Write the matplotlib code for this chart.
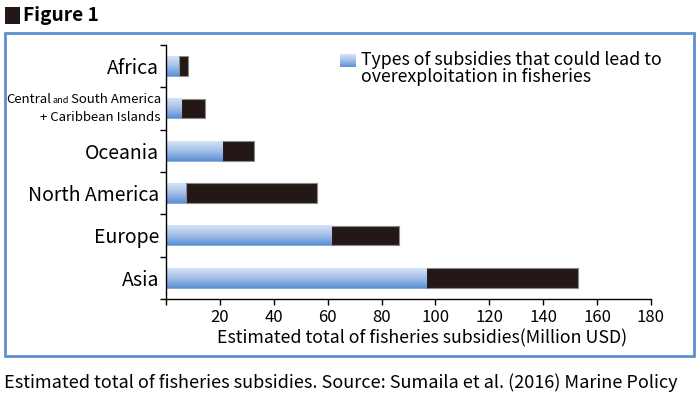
import numpy as np
import matplotlib.pyplot as plt
from matplotlib.colors import LinearSegmentedColormap
from matplotlib.patches import Rectangle
from matplotlib.offsetbox import TextArea, HPacker, VPacker, AnnotationBbox

plt.rcParams['font.family'] = ['Noto Sans CJK JP', 'DejaVu Sans']

# data (million USD)
regions = ["Africa", "Central and South America", "Oceania", "North America", "Europe", "Asia"]
harmful = np.array([4.8, 5.6, 20.8, 7.4, 61.3, 96.5])
total = np.array([8.2, 14.5, 32.7, 56.0, 86.3, 153.0])
other = total - harmful
xticks = [0, 20, 40, 60, 80, 100, 120, 140, 160, 180]

W, H = 700, 399
fig = plt.figure(figsize=(W / 100, H / 100), dpi=100)
ax = fig.add_axes([166 / W, 1 - 299 / H, 485 / W, 254 / H])

y = np.arange(len(regions))
bh = 0.47
blue = ax.barh(y, harmful, height=bh, color='#8fb2e3', edgecolor='#6f9bd8', lw=0.5, zorder=2)
ax.barh(y, other, left=harmful, height=bh, color='#231815', edgecolor='#8a8a8a', lw=0.8, zorder=2)

# vertical gradient on the blue bars
grad = np.linspace(0, 1, 64).reshape(-1, 1)
cmap = LinearSegmentedColormap.from_list('bl', ['#d6e3f5', '#a3c0e9', '#5b8fd4'])
for p in blue.patches:
    x0, y0, w, h = p.get_x(), p.get_y(), p.get_width(), p.get_height()
    ax.imshow(grad, cmap=cmap, aspect='auto', zorder=2.5,
              extent=(x0, x0 + w, y0 + h, y0))

ax.set_xlim(0, 180)
ax.set_ylim(5.5, -0.5)

ax.set_xticks(xticks, [str(t) if t else '' for t in xticks])
ax.tick_params(axis='x', length=4, width=1, labelsize=12, pad=3)

labels = [r if r != "Central and South America" else '' for r in regions]
ax.set_yticks(y, labels)
ax.set_yticks(np.arange(-0.5, 6, 1), minor=True)
ax.tick_params(axis='y', which='major', length=0, labelsize=14, pad=5)
ax.tick_params(axis='y', which='minor', length=4, width=1)
for s in ['top', 'right']:
    ax.spines[s].set_visible(False)
for s in ['left', 'bottom']:
    ax.spines[s].set_linewidth(1)

ax.set_xlabel('Estimated total of fisheries subsidies(Million USD)', fontsize=12.8)
ax.xaxis.set_label_coords(0.528, -39 / 254, transform=ax.transAxes)
ax.xaxis.label.set_va('center')

# two-line label with small "and"
fs = 9.5
line1 = HPacker(children=[TextArea("Central", textprops=dict(size=fs)),
                          TextArea("and", textprops=dict(size=6.5)),
                          TextArea("South America", textprops=dict(size=fs))],
                align='baseline', sep=1, pad=0)
line2 = TextArea("+ Caribbean Islands", textprops=dict(size=fs))
box = VPacker(children=[line1, line2], align='right', sep=3, pad=0)
ab = AnnotationBbox(box, (-0.011, y[1]), xycoords=('axes fraction', 'data'),
                    box_alignment=(1, 0.5), frameon=False, pad=0, annotation_clip=False)
ax.add_artist(ab)

# legend (gradient swatch)
lax = fig.add_axes([340 / W, 1 - 67 / H, 16 / W, 13 / H])
lax.imshow(grad, cmap=cmap, aspect='auto')
lax.axis('off')
fig.text(361 / W, 1 - 51 / H, 'Types of subsidies that could lead to\noverexploitation in fisheries',
         fontsize=12.8, va='top', linespacing=0.92)

# frame, header, caption
fig.patches.append(Rectangle((5 / W, 1 - 356 / H), 689 / W, 323 / H, fill=False,
                             ec='#5d8fd3', lw=2, transform=fig.transFigure))
fig.patches.append(Rectangle((5 / W, 1 - 24 / H), 15 / W, 17 / H, fc='#231815',
                             ec='none', transform=fig.transFigure))
fig.text(23 / W, 1 - 15.5 / H, 'Figure 1', fontsize=13.8, weight='bold', va='center')
fig.text(4 / W, 1 - 383 / H,
         'Estimated total of fisheries subsidies. Source: Sumaila et al. (2016) Marine Policy',
         fontsize=13, va='center')

fig.savefig('out.png', dpi=100)
